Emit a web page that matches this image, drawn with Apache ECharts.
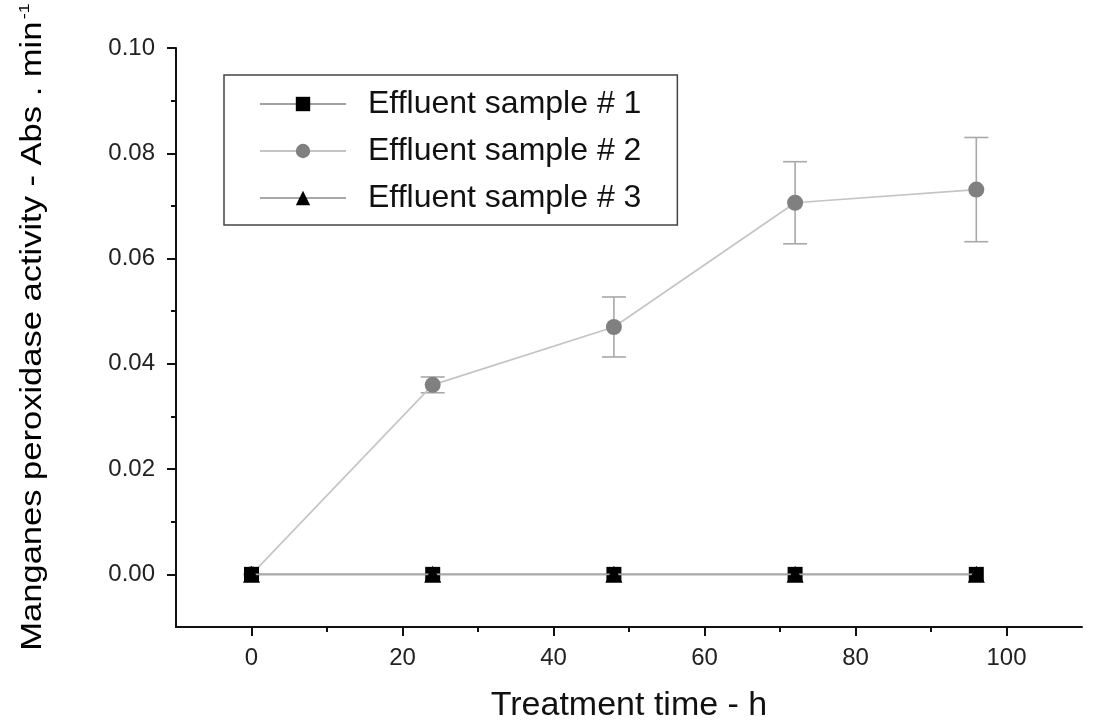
<!DOCTYPE html>
<html>
<head>
<meta charset="utf-8">
<script src="https://cdn.jsdelivr.net/npm/echarts@6/dist/echarts.min.js"></script>
<style>
  html, body { margin: 0; padding: 0; background: #fff; }
  #chart { width: 1096px; height: 722px; }
</style>
</head>
<body>
<div id="chart"></div>
<script>
// treatment times (h)
const times = [0, 24, 48, 72, 96]
const sample1 = [0, 0, 0, 0, 0]
const sample2 = [0, 0.036, 0.047, 0.0706, 0.0731]
const sample2Err = [0, 0.0015, 0.0057, 0.0078, 0.0099]
const sample3 = [0, 0, 0, 0, 0]

const xTicks = [0, 20, 40, 60, 80, 100]
const xMinorTicks = [10, 30, 50, 70, 90]
const yTicks = [0, 0.02, 0.04, 0.06, 0.08, 0.1]
const yMinorTicks = [0.01, 0.03, 0.05, 0.07, 0.09]

const legendNames = ['Effluent sample # 1', 'Effluent sample # 2', 'Effluent sample # 3']

const font = '"Liberation Sans", Arial, sans-serif'
const chart = echarts.init(document.getElementById('chart'))

const pairs = arr => times.map((t, i) => [t, arr[i]])

const xBase = { type: 'value', min: -10, max: 110, splitLine: { show: false } }
const yBase = { type: 'value', min: -0.01, max: 0.1, splitLine: { show: false } }

const option = {
  animation: false,
  backgroundColor: '#fff',
  grid: { left: 176, right: 14, top: 48, bottom: 95, outerBoundsMode: 'none' },
  xAxis: [
    {
      ...xBase,
      name: 'Treatment time - h',
      nameLocation: 'middle',
      nameGap: 62,
      nameTextStyle: { fontFamily: font, fontSize: 34, color: '#111' },
      axisLine: { onZero: false, lineStyle: { color: '#111', width: 2 } },
      axisTick: { customValues: xTicks, length: 9, lineStyle: { color: '#111', width: 2 } },
      axisLabel: { customValues: xTicks, margin: 19, fontFamily: font, fontSize: 24, color: '#222' }
    },
    {
      ...xBase,
      position: 'bottom',
      axisLine: { show: false, onZero: false },
      axisTick: { customValues: xMinorTicks, length: 5, lineStyle: { color: '#111', width: 2 } },
      axisLabel: { show: false }
    }
  ],
  yAxis: [
    {
      ...yBase,
      axisLine: { show: true, onZero: false, lineStyle: { color: '#111', width: 2 } },
      axisTick: { show: true, customValues: yTicks, length: 9, lineStyle: { color: '#111', width: 2 } },
      axisLabel: {
        customValues: yTicks, margin: 21, fontFamily: font, fontSize: 24, color: '#222',
        formatter: v => v.toFixed(2)
      }
    },
    {
      ...yBase,
      position: 'left',
      axisLine: { show: false, onZero: false },
      axisTick: { show: true, customValues: yMinorTicks, length: 5, lineStyle: { color: '#111', width: 2 } },
      axisLabel: { show: false }
    }
  ],
  legend: {
    data: legendNames,
    orient: 'vertical',
    left: 224,
    top: 75,
    padding: [12, 36, 10, 35],
    itemWidth: 86,
    itemHeight: 18,
    itemGap: 13,
    borderColor: '#444',
    borderWidth: 1.5,
    textStyle: { fontFamily: font, fontSize: 32, color: '#111', lineHeight: 34, padding: [0, 0, 0, 17] }
  },
  graphic: [
    {
      // y axis title, stretched along its length like the original
      type: 'text',
      x: 33,
      y: 327,
      rotation: Math.PI / 2,
      scaleX: 1.19,
      style: {
        text: '{a|Manganes peroxidase activity - Abs . min}{b|-1}',
        align: 'center',
        verticalAlign: 'middle',
        rich: {
          a: { fontFamily: font, fontSize: 29, color: '#111', lineHeight: 32 },
          b: { fontFamily: font, fontSize: 15, color: '#111', verticalAlign: 'top', lineHeight: 32, padding: [0, 0, 15, 2] }
        }
      }
    }
  ],
  series: [
    {
      type: 'custom',
      name: 'err',
      z: 1,
      data: times.map((t, i) => [t, sample2[i], sample2Err[i]]),
      renderItem: (params, api) => {
        const x = api.value(0)
        const y = api.value(1)
        const e = api.value(2)
        if (!e) return null
        const top = api.coord([x, y + e])
        const bot = api.coord([x, y - e])
        const cap = 12
        const style = { stroke: '#a8a8a8', lineWidth: 1.6 }
        return {
          type: 'group',
          children: [
            { type: 'line', shape: { x1: top[0], y1: top[1], x2: bot[0], y2: bot[1] }, style },
            { type: 'line', shape: { x1: top[0] - cap, y1: top[1], x2: top[0] + cap, y2: top[1] }, style },
            { type: 'line', shape: { x1: bot[0] - cap, y1: bot[1], x2: bot[0] + cap, y2: bot[1] }, style }
          ]
        }
      }
    },
    {
      name: legendNames[1],
      type: 'line',
      z: 2,
      data: pairs(sample2),
      symbol: 'circle',
      symbolSize: 16,
      itemStyle: { color: '#808080' },
      lineStyle: { color: '#c4c4c4', width: 1.6 }
    },
    {
      name: legendNames[0],
      type: 'line',
      z: 3,
      data: pairs(sample1),
      symbol: 'rect',
      symbolSize: 15,
      itemStyle: { color: '#000' },
      lineStyle: { color: '#a0a0a0', width: 1.6 }
    },
    {
      name: legendNames[2],
      type: 'line',
      z: 4,
      data: pairs(sample3),
      symbol: 'triangle',
      symbolSize: 17,
      itemStyle: { color: '#000' },
      lineStyle: { color: '#a8a8a8', width: 1.6 }
    }
  ]
}

chart.setOption(option)
</script>
</body>
</html>
